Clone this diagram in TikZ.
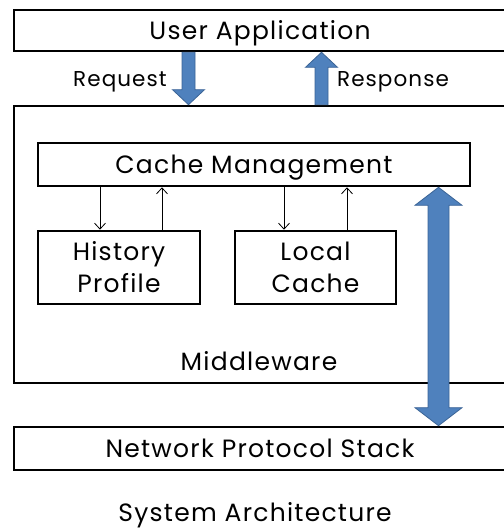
\documentclass[tikz,border=0pt]{standalone}
\usepackage{fontspec}
\setmainfont{Poppins}[LetterSpace=5]
\usetikzlibrary{arrows.meta,calc}
\definecolor{arrfill}{HTML}{4F81BD}
\definecolor{arrline}{HTML}{3B6496}
\begin{document}
\begin{tikzpicture}[x=1bp,y=-1bp,
  box/.style={draw, line width=2.6bp, inner sep=0pt, align=center,
    font=\fontsize{25bp}{32bp}\selectfont},
  one/.style={text height=17.5bp, text depth=0bp},
  plain/.style={inner sep=0pt, font=\fontsize{25bp}{32bp}\selectfont, anchor=base},
  lbl/.style={inner sep=0pt, font=\fontsize{21.5bp}{26bp}\selectfont, anchor=base},
  thinarr/.style={line width=0.8bp, -{Straight Barb[length=6bp,width=11bp]}},
  blk/.style={fill=arrfill, draw=arrline, line width=0.8bp, line join=miter},
  singleblock/.style={to path={
    let \p1=(\tikztostart), \p2=(\tikztotarget), \n1={sign(\y2-\y1)} in
    (\x1-6.5bp,\y1) -- (\x1+6.5bp,\y1) -- (\x1+6.5bp,\y2-\n1*15bp) -- (\x1+16bp,\y2-\n1*15bp)
    -- (\x1,\y2) -- (\x1-16bp,\y2-\n1*15bp) -- (\x1-6.5bp,\y2-\n1*15bp) -- cycle}},
  doubleblock/.style={to path={
    let \p1=(\tikztostart), \p2=(\tikztotarget), \n1={sign(\y2-\y1)} in
    (\x1,\y1) -- (\x1+23.5bp,\y1+\n1*18bp) -- (\x1+10.5bp,\y1+\n1*18bp)
    -- (\x1+10.5bp,\y2-\n1*18bp) -- (\x1+23.5bp,\y2-\n1*18bp) -- (\x1,\y2)
    -- (\x1-23.5bp,\y2-\n1*18bp) -- (\x1-10.5bp,\y2-\n1*18bp)
    -- (\x1-10.5bp,\y1+\n1*18bp) -- (\x1-23.5bp,\y1+\n1*18bp) -- cycle}}
]
\useasboundingbox (0,0) rectangle (504,530);

\node[box, one, minimum width=492bp, minimum height=41bp] (ua) at (260,30.5) {User Application};
\node[box, minimum width=492bp, minimum height=277bp] (mw) at (260,244.5) {};
\node[box, one, minimum width=432bp, minimum height=43bp] (cm) at (254,164.5) {Cache Management};
\node[box, minimum width=162bp, minimum height=73bp] (hp) at (119,267.5) {History\\Profile};
\node[box, minimum width=161bp, minimum height=73bp] (lc) at (315.5,267.5) {Local\\Cache};
\node[box, one, minimum width=492bp, minimum height=43bp] (nps) at (260,448.5) {Network Protocol Stack};
\node[plain] (mwl) at (259,370.5) {Middleware};
\node[plain] (title) at (255,521) {System Architecture};

\node[lbl] (req) at (120,87) {Request};
\node[lbl] (resp) at (393,87) {Response};

\draw[blk] (188.5,0 |- ua.south) to[singleblock] (188.5,0 |- mw.north);
\draw[blk] (321.5,0 |- mw.north) to[singleblock] (321.5,0 |- ua.south);
\draw[blk] (438.5,0 |- cm.south) to[doubleblock] (438.5,0 |- nps.north);

\draw[thinarr] (100,0 |- cm.south) -- (100,0 |- hp.north);
\draw[thinarr] (162,0 |- hp.north) -- (162,0 |- cm.south);
\draw[thinarr] (284,0 |- cm.south) -- (284,0 |- lc.north);
\draw[thinarr] (347,0 |- lc.north) -- (347,0 |- cm.south);
\end{tikzpicture}
\end{document}
